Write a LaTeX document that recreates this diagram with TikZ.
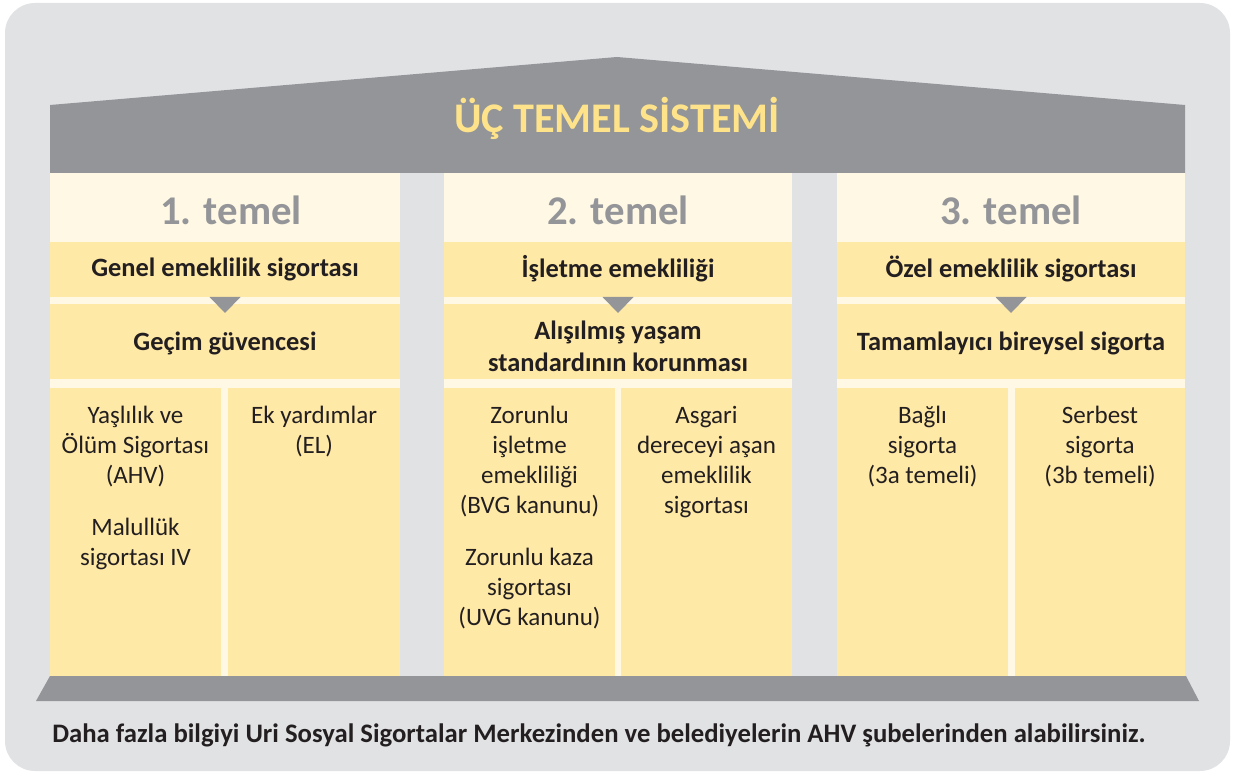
\documentclass[tikz,border=0pt]{standalone}
\usepackage{fontspec}
\setmainfont{Carlito}
\usepackage{tikz}

\definecolor{bggray}{HTML}{E1E2E4}
\definecolor{roofgray}{HTML}{939598}
\definecolor{cream}{HTML}{FEF8E5}
\definecolor{lightyellow}{HTML}{FFE9A6}
\definecolor{titleyellow}{HTML}{FFE38A}
\definecolor{textdark}{HTML}{231F20}

\tikzset{
  roofstyle/.style={fill=roofgray},
  numstyle/.style={font=\bfseries\fontsize{29}{34}\selectfont, text=roofgray},
  headstyle/.style={font=\bfseries\fontsize{18.8}{22.8}\selectfont, text=textdark, align=center},
  subtext/.style={anchor=north, inner sep=0pt, font=\fontsize{17.8}{21.3}\selectfont, text=textdark, align=center},
}

\begin{document}
\begin{tikzpicture}[x=0.025cm, y=-0.025cm]
\useasboundingbox (0,0) rectangle (1235,773);
\fill[bggray, rounded corners=0.75cm] (5,3) rectangle (1230,771);
% roof
\fill[roofstyle] (50,173) -- (50,105) -- (617,57) -- (1185,105) -- (1185,173) -- cycle;
\node[font=\bfseries\fontsize{30}{36}\selectfont, text=titleyellow] (title) at (617,118) {ÜÇ TEMEL SİSTEMİ};
% pillars
\fill[cream] (50,173) rectangle (400,676);
\fill[cream] (444,173) rectangle (792,676);
\fill[cream] (837,173) rectangle (1185,676);
\fill[lightyellow] (50,242) rectangle (400,297);
\fill[lightyellow] (444,242) rectangle (792,297);
\fill[lightyellow] (837,242) rectangle (1185,297);
\fill[lightyellow] (50,304) rectangle (400,379);
\fill[lightyellow] (444,304) rectangle (792,379);
\fill[lightyellow] (837,304) rectangle (1185,379);
\fill[lightyellow] (50,388) rectangle (221,676);
\fill[lightyellow] (228,388) rectangle (400,676);
\fill[lightyellow] (444,388) rectangle (615,676);
\fill[lightyellow] (621,388) rectangle (792,676);
\fill[lightyellow] (837,388) rectangle (1008,676);
\fill[lightyellow] (1015,388) rectangle (1185,676);
% triangles
\fill[roofstyle] (209.5,297) -- (240.5,297) -- (225,313) -- cycle;
\fill[roofstyle] (602.5,297) -- (633.5,297) -- (618,313) -- cycle;
\fill[roofstyle] (995.5,297) -- (1026.5,297) -- (1011,313) -- cycle;
% base
\fill[roofstyle] (50,676) -- (1186,676) -- (1199,701) -- (36,701) -- cycle;
% headings
\node[numstyle] (temelA) at (231,210) {1. temel};
\node[numstyle] (temelB) at (618,210) {2. temel};
\node[numstyle] (temelC) at (1011,210) {3. temel};
\node[headstyle] (genel) at (225,269) {Genel emeklilik sigortası};
\node[headstyle] (isletme) at (618,269) {İşletme emekliliği};
\node[headstyle] (ozel) at (1011,269) {Özel emeklilik sigortası};
\node[headstyle] (gecim) at (225,343) {Geçim güvencesi};
\node[headstyle] (yasam) at (618,346) {Alışılmış yaşam\\standardının korunması};
\node[headstyle] (tamam) at (1011,343) {Tamamlayıcı bireysel sigorta};
% sub boxes
\node[subtext] (ahv) at (135.5,406) {Yaşlılık ve\\Ölüm Sigortası\\(AHV)\\[15.6pt]Malullük\\sigortası IV};
\node[subtext] (el) at (314,406) {Ek yardımlar\\(EL)};
\node[subtext] (bvg) at (529.5,406) {Zorunlu\\işletme\\emekliliği\\(BVG kanunu)\\[15.6pt]Zorunlu kaza\\sigortası\\(UVG kanunu)};
\node[subtext] (asgari) at (706.5,406) {Asgari\\dereceyi aşan\\emeklilik\\sigortası};
\node[subtext] (bagli) at (922.5,406) {Bağlı\\sigorta\\(3a temeli)};
\node[subtext] (serbest) at (1100,406) {Serbest\\sigorta\\(3b temeli)};
% footer
\node[anchor=west, inner sep=0pt, font=\bfseries\fontsize{19}{22}\selectfont, text=textdark] (footer) at (52,735) {Daha fazla bilgiyi Uri Sosyal Sigortalar Merkezinden ve belediyelerin AHV şubelerinden alabilirsiniz.};
\end{tikzpicture}
\end{document}
